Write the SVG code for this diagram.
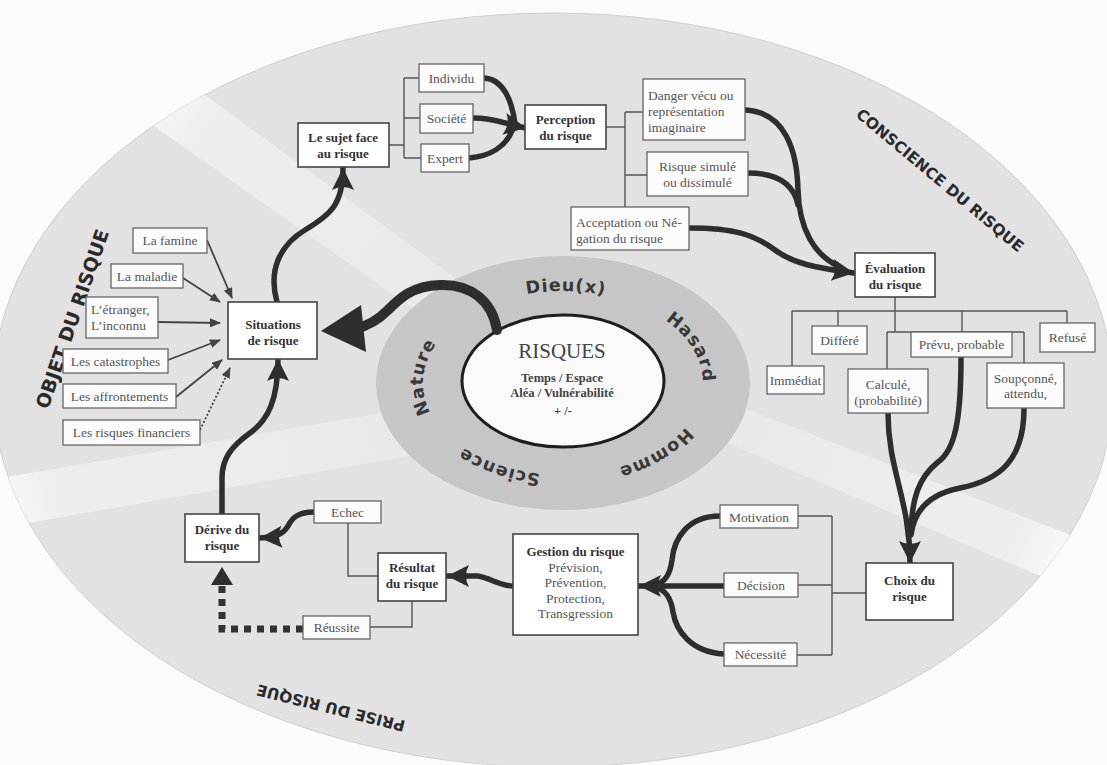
<svg xmlns="http://www.w3.org/2000/svg" width="1107" height="765" viewBox="0 0 1107 765">
<defs>
<style>
.box{fill:#fff;stroke:#444;stroke-width:1.6}
.sub{fill:#fcfcfc;stroke:#666;stroke-width:1.3}
.tb{font-family:"Liberation Serif",serif;font-weight:bold;font-size:13px;fill:#333;text-anchor:middle}
.tr{font-family:"Liberation Serif",serif;font-size:13.5px;fill:#555;text-anchor:middle}
.tl{font-family:"Liberation Serif",serif;font-size:13.5px;fill:#555}
.thick{fill:none;stroke:#2e2e2e;stroke-width:5.5;stroke-linecap:round}
.thin{fill:none;stroke:#555;stroke-width:1.4}
.arr{fill:none;stroke:#444;stroke-width:1.8}
.sector{font-family:"DejaVu Sans",sans-serif;font-weight:bold;fill:#2a2a2a}
.ring{font-family:"DejaVu Sans",sans-serif;font-weight:bold;font-size:17.5px;fill:#383838;letter-spacing:1px;text-anchor:middle}
.center{font-family:"Liberation Serif",serif;fill:#444;text-anchor:middle}
</style>
<marker id="big" markerUnits="userSpaceOnUse" markerWidth="24" markerHeight="24" viewBox="0 0 24 24" refX="22" refY="12" orient="auto"><path d="M0,1 L22,12 L0,23 Q6,12 0,1 z" fill="#2e2e2e"/></marker>
<marker id="small" markerUnits="userSpaceOnUse" markerWidth="11" markerHeight="9" viewBox="0 0 11 9" refX="10" refY="4.5" orient="auto"><path d="M0,0 L11,4.5 L0,9 z" fill="#444"/></marker>
<clipPath id="ell"><ellipse cx="553" cy="390" rx="560" ry="377"/></clipPath>
<linearGradient id="gUL" gradientUnits="userSpaceOnUse" x1="440" y1="300" x2="150" y2="85"><stop offset="0" stop-color="#e9e9e9"/><stop offset="0.8" stop-color="#eeeeee"/><stop offset="1" stop-color="#f8f8f8"/></linearGradient>
<linearGradient id="gLL" gradientUnits="userSpaceOnUse" x1="390" y1="435" x2="0" y2="505"><stop offset="0" stop-color="#e9e9e9"/><stop offset="0.85" stop-color="#eeeeee"/><stop offset="1" stop-color="#f8f8f8"/></linearGradient>
<linearGradient id="gR" gradientUnits="userSpaceOnUse" x1="750" y1="430" x2="1060" y2="560"><stop offset="0" stop-color="#e9e9e9"/><stop offset="0.85" stop-color="#eeeeee"/><stop offset="1" stop-color="#f8f8f8"/></linearGradient>
<path id="ringPath" d="M 563 475 A 140 92 0 0 1 423 383 A 140 92 0 0 1 563 291 A 140 92 0 0 1 703 383 A 140 92 0 0 1 563 475"/>
</defs>

<g id="background">
<rect width="1107" height="765" fill="#fbfbfb"/>
<ellipse cx="553" cy="390" rx="560" ry="377" fill="#e2e2e2" stroke="#cfcfcf" stroke-width="1"/>
<g clip-path="url(#ell)">
<polygon points="520,325 160,62 110,95 490,363" fill="url(#gUL)"/>
<polygon points="470,398 -40,485 -40,535 478,444" fill="url(#gLL)"/>
<polygon points="680,383 1150,566 1120,610 690,427" fill="url(#gR)"/>
</g>
<ellipse cx="563" cy="383" rx="187" ry="127" fill="#c6c6c6"/>
<ellipse cx="563" cy="381" rx="101" ry="66" fill="#fafafa" stroke="#1e1e1e" stroke-width="3"/>
</g>

<g id="sector-labels">
<text class="sector" font-size="19" transform="translate(48,410) rotate(-71)">OBJET DU RISQUE</text>
<text class="sector" font-size="15.5" transform="translate(855,116) rotate(40)">CONSCIENCE DU RISQUE</text>
<text class="sector" font-size="15.5" transform="translate(406,721) rotate(194)">PRISE DU RISQUE</text>
</g>

<g id="ring-labels">
<text class="ring"><textPath href="#ringPath" startOffset="8.7%">Science</textPath></text>
<text class="ring"><textPath href="#ringPath" startOffset="25.8%">Nature</textPath></text>
<text class="ring"><textPath href="#ringPath" startOffset="50.4%">Dieu(x)</textPath></text>
<text class="ring"><textPath href="#ringPath" startOffset="69.8%">Hasard</textPath></text>
<text class="ring"><textPath href="#ringPath" startOffset="87%">Homme</textPath></text>
</g>

<g id="risques">
<text class="center" x="562" y="358" font-size="21">RISQUES</text>
<text class="center" x="562" y="382" font-size="12.5" font-weight="bold">Temps / Espace</text>
<text class="center" x="562" y="397" font-size="12.5" font-weight="bold">Aléa / Vulnérabilité</text>
<text class="center" x="563" y="415" font-size="12.5" font-weight="bold">+ /-</text>
</g>

<g id="connectors">
<path d="M 497 330 C 492 300, 470 284, 440 285 C 412 286, 400 298, 388 310 C 378 320, 368 326, 355 329" fill="none" stroke="#2e2e2e" stroke-width="10" stroke-linecap="round"/>
<polygon points="321,331 361,305 366,352" fill="#2e2e2e"/>
<path class="thick" d="M 277 302 C 268 270, 280 245, 305 230 C 330 215, 343 205, 343 168" marker-end="url(#big)"/>
<path class="thin" d="M 389 145 H 404 M 404 78 V 158 M 404 78 H 419 M 404 118 H 420 M 404 158 H 421"/>
<path class="thick" d="M 484 78 C 503 79, 512 100, 515 124"/>
<path class="thick" d="M 469 158 C 492 156, 506 145, 512 131"/>
<path class="thick" d="M 473 118 C 495 118, 505 124, 526 128" marker-end="url(#big)"/>
<path class="thin" d="M 606 127 H 625" stroke-width="2.6"/>
<path class="thin" d="M 625 112 V 207 M 625 112 H 643 M 625 175 H 647"/>
<path class="thick" d="M 745 110 C 785 112, 797 150, 798 190 C 799 230, 815 255, 838 266"/>
<path class="thick" d="M 748 173 C 778 173, 794 185, 798 205"/>
<path class="thick" d="M 689 228 C 735 228, 755 235, 775 250 C 795 265, 820 268, 854 273" marker-end="url(#big)"/>
<path class="thin" d="M 895 297 V 332 M 792 311 H 1067 M 792 311 V 366 M 838 311 V 326 M 962 311 V 332 M 1067 311 V 323 M 887 332 H 1024 M 887 332 V 369 M 1024 332 V 363"/>
<path class="thick" d="M 961 357 C 961 420, 955 450, 938 462 C 918 478, 912 500, 911 530"/>
<path class="thick" d="M 1024 408 C 1024 460, 1000 480, 960 488 C 930 494, 914 510, 911 535"/>
<path class="thick" d="M 888 413 C 888 470, 910 500, 910 563" marker-end="url(#big)"/>
<path class="thin" d="M 866 593 H 832 M 832 516 V 655 M 798 516 H 832 M 798 585 H 832 M 797 655 H 832"/>
<path class="thick" d="M 720 516 C 688 516, 674 538, 672 560 C 670 575, 665 582, 655 585"/>
<path class="thick" d="M 724 654 C 690 652, 676 630, 673 612 C 671 598, 666 590, 655 587"/>
<path class="thick" d="M 724 586 L 639 586" marker-end="url(#big)"/>
<path class="thick" d="M 513 586 C 500 586, 490 578, 478 576 L 447 576" marker-end="url(#big)"/>
<path class="thin" d="M 348 523 V 576 H 378 M 412 601 V 627 H 370"/>
<path class="thick" d="M 314 512 C 298 512, 292 518, 288 526 C 284 533, 278 537, 260 538" marker-end="url(#big)"/>
<path d="M 303 629 H 222 V 586" fill="none" stroke="#333" stroke-width="7" stroke-dasharray="7 6"/>
<polygon points="222,567 211,585 233,585" fill="#2e2e2e"/>
<path class="thick" d="M 222 514 L 222 478 C 222 458, 232 446, 250 433 C 268 420, 278 400, 278 359" marker-end="url(#big)"/>
<path class="arr" d="M 207 240 L 232 298" marker-end="url(#small)"/>
<path class="arr" d="M 183 278 L 220 302" marker-end="url(#small)"/>
<path class="arr" d="M 158 322 L 220 323" marker-end="url(#small)"/>
<path class="arr" d="M 168 360 L 220 340" marker-end="url(#small)"/>
<path class="arr" d="M 176 397 L 222 360" marker-end="url(#small)"/>
<path class="arr" d="M 200 430 L 230 368" stroke-dasharray="2 2" stroke-width="1.4" marker-end="url(#small)"/>
</g>

<g id="situations"><rect class="box" x="228" y="302" width="89" height="57"/><text class="tb" x="273" y="329">Situations</text><text class="tb" x="273" y="345">de risque</text></g>
<g id="sujet"><rect class="box" x="298" y="123" width="91" height="44"/><text class="tb" x="343" y="142">Le sujet face</text><text class="tb" x="343" y="158">au risque</text></g>
<g id="individu"><rect class="sub" x="419" y="64" width="65" height="28"/><text class="tr" x="451.5" y="82.5">Individu</text></g>
<g id="societe"><rect class="sub" x="420" y="104" width="53" height="29"/><text class="tr" x="446.5" y="123">Société</text></g>
<g id="expert"><rect class="sub" x="421" y="144" width="48" height="28"/><text class="tr" x="445" y="162.5">Expert</text></g>
<g id="perception"><rect class="box" x="525" y="105" width="81" height="44"/><text class="tb" x="565.5" y="124">Perception</text><text class="tb" x="565.5" y="140">du risque</text></g>
<g id="danger"><rect class="sub" x="643" y="79" width="102" height="61"/><text class="tl" x="648" y="99.5">Danger vécu ou</text><text class="tl" x="648" y="115.5">représentation</text><text class="tl" x="648" y="131.5">imaginaire</text></g>
<g id="simule"><rect class="sub" x="647" y="152" width="101" height="44"/><text class="tr" x="697.5" y="171">Risque simulé</text><text class="tr" x="697.5" y="186.5">ou dissimulé</text></g>
<g id="acceptation"><rect class="sub" x="571" y="207" width="118" height="43"/><text class="tl" x="576" y="227">Acceptation ou Né-</text><text class="tl" x="576" y="242.5">gation du risque</text></g>
<g id="evaluation"><rect class="box" x="855" y="253" width="80" height="44"/><text class="tb" x="895" y="273">Évaluation</text><text class="tb" x="895" y="289">du risque</text></g>
<g id="immediat"><rect class="sub" x="767" y="366" width="57" height="28"/><text class="tr" x="795.5" y="384.5">Immédiat</text></g>
<g id="differe"><rect class="sub" x="812" y="326" width="55" height="28"/><text class="tr" x="839.5" y="344.5">Différé</text></g>
<g id="prevu"><rect class="sub" x="911" y="332" width="101" height="25"/><text class="tr" x="961.5" y="349">Prévu, probable</text></g>
<g id="refuse"><rect class="sub" x="1040" y="323" width="55" height="29"/><text class="tr" x="1067.5" y="342">Refusé</text></g>
<g id="calcule"><rect class="sub" x="848" y="369" width="80" height="44"/><text class="tr" x="888" y="389">Calculé,</text><text class="tr" x="888" y="404.5">(probabilité)</text></g>
<g id="soupconne"><rect class="sub" x="987" y="363" width="77" height="45"/><text class="tr" x="1025.5" y="382.5">Soupçonné,</text><text class="tr" x="1025.5" y="398">attendu,</text></g>
<g id="choix"><rect class="box" x="866" y="563" width="87" height="57"/><text class="tb" x="909.5" y="585">Choix du</text><text class="tb" x="909.5" y="601">risque</text></g>
<g id="motivation"><rect class="sub" x="720" y="505" width="78" height="23"/><text class="tr" x="759" y="521.5">Motivation</text></g>
<g id="decision"><rect class="sub" x="724" y="573" width="74" height="24"/><text class="tr" x="761" y="590">Décision</text></g>
<g id="necessite"><rect class="sub" x="724" y="643" width="73" height="23"/><text class="tr" x="760.5" y="659">Nécessité</text></g>
<g id="gestion"><rect class="box" x="513" y="534" width="125" height="101"/><text class="tb" x="575.5" y="556">Gestion du risque</text><text class="tr" x="575.5" y="571.5">Prévision,</text><text class="tr" x="575.5" y="587">Prévention,</text><text class="tr" x="575.5" y="602.5">Protection,</text><text class="tr" x="575.5" y="618">Transgression</text></g>
<g id="resultat"><rect class="box" x="378" y="553" width="68" height="48"/><text class="tb" x="412" y="572">Résultat</text><text class="tb" x="412" y="588">du risque</text></g>
<g id="echec"><rect class="sub" x="314" y="501" width="67" height="22"/><text class="tr" x="347.5" y="517">Echec</text></g>
<g id="reussite"><rect class="sub" x="303" y="616" width="67" height="23"/><text class="tr" x="336.5" y="632">Réussite</text></g>
<g id="derive"><rect class="box" x="185" y="514" width="74" height="48"/><text class="tb" x="222" y="534">Dérive du</text><text class="tb" x="222" y="550">risque</text></g>
<g id="famine"><rect class="sub" x="133" y="228" width="74" height="25"/><text class="tr" x="170" y="245">La famine</text></g>
<g id="maladie"><rect class="sub" x="111" y="264" width="72" height="24"/><text class="tr" x="147" y="281">La maladie</text></g>
<g id="etranger"><rect class="sub" x="86" y="297" width="72" height="41"/><text class="tl" x="91" y="314">L’étranger,</text><text class="tl" x="91" y="330">L’inconnu</text></g>
<g id="catastrophes"><rect class="sub" x="63" y="349" width="105" height="24"/><text class="tr" x="115.5" y="366">Les catastrophes</text></g>
<g id="affrontements"><rect class="sub" x="63" y="384" width="113" height="24"/><text class="tr" x="119.5" y="401">Les affrontements</text></g>
<g id="financiers"><rect class="sub" x="63" y="420" width="137" height="25"/><text class="tr" x="131.5" y="437">Les risques financiers</text></g>
</svg>
